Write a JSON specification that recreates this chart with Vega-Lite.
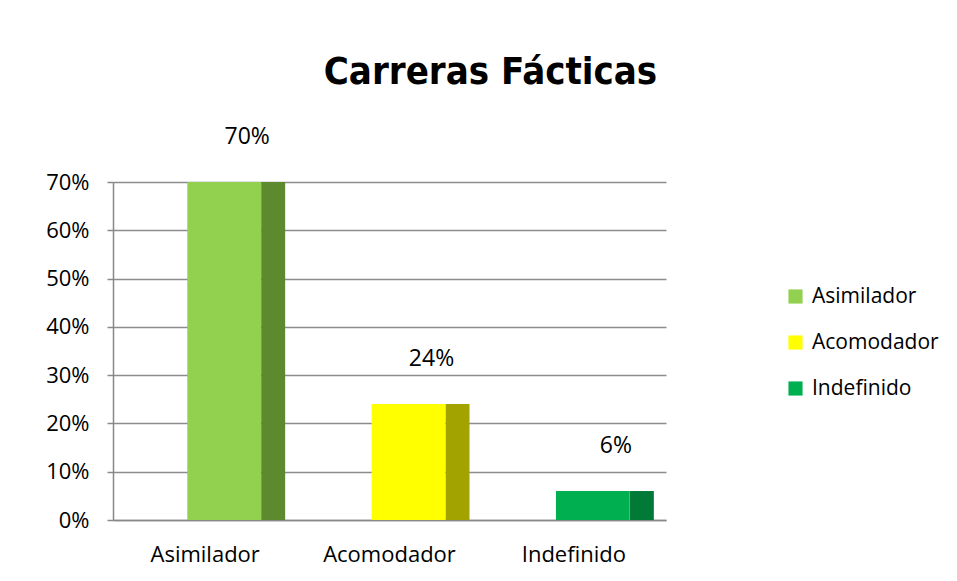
{
  "$schema": "https://vega.github.io/schema/vega-lite/v6.json",
  "autosize": "none",
  "padding": {"left": 113, "top": 182, "right": 237, "bottom": 61},
  "width": 607,
  "height": 338,
  "background": "white",
  "title": {
    "text": "Carreras Fácticas",
    "font": "Liberation Sans Narrow, DejaVu Sans Condensed, Liberation Sans, sans-serif",
    "fontSize": 38,
    "fontWeight": "bold",
    "color": "#000000",
    "anchor": "middle",
    "dx": 74,
    "offset": 34
  },
  "data": {
    "values": [
      {"estilo": "Asimilador", "valor": 0.70},
      {"estilo": "Acomodador", "valor": 0.24},
      {"estilo": "Indefinido", "valor": 0.06}
    ]
  },
  "config": {
    "view": {"stroke": null},
    "axis": {"labelFont": "Open Sans", "labelFontSize": 22, "labelColor": "#000000"},
    "legend": {"labelFont": "Open Sans", "labelFontSize": 21, "labelColor": "#000000"}
  },
  "resolve": {"scale": {"color": "independent"}},
  "encoding": {
    "x": {
      "field": "estilo",
      "type": "nominal",
      "sort": ["Asimilador", "Acomodador", "Indefinido"],
      "scale": {"range": [0, 553], "paddingInner": 0.6, "paddingOuter": 0.3},
      "axis": {
        "title": null,
        "labelAngle": 0,
        "labelPadding": 24,
        "ticks": false,
        "domainColor": "#888888",
        "domainWidth": 1.5,
        "grid": false
      }
    },
    "y": {
      "field": "valor",
      "type": "quantitative",
      "scale": {"domain": [0, 0.7], "nice": false},
      "axis": {
        "title": null,
        "format": ".0%",
        "values": [0, 0.1, 0.2, 0.3, 0.4, 0.5, 0.6, 0.7],
        "grid": true,
        "gridColor": "#8c8c8c",
        "gridWidth": 1.5,
        "domainColor": "#888888",
        "domainWidth": 1.5,
        "tickColor": "#888888",
        "tickSize": 6,
        "tickWidth": 1.5,
        "labelPadding": 18
      }
    }
  },
  "layer": [
    {
      "mark": {"type": "bar", "width": 24, "xOffset": 68},
      "encoding": {
        "color": {
          "field": "estilo",
          "type": "nominal",
          "scale": {
            "domain": ["Asimilador", "Acomodador", "Indefinido"],
            "range": ["#5E8A2F", "#A3A300", "#007A36"]
          },
          "legend": null
        }
      }
    },
    {
      "mark": {"type": "bar", "xOffset": 19},
      "encoding": {
        "color": {
          "field": "estilo",
          "type": "nominal",
          "sort": ["Asimilador", "Acomodador", "Indefinido"],
          "scale": {
            "domain": ["Asimilador", "Acomodador", "Indefinido"],
            "range": ["#92D050", "#FFFF00", "#00B050"]
          },
          "legend": {
            "title": null,
            "orient": "none",
            "legendX": 672,
            "legendY": 104,
            "symbolType": "square",
            "symbolSize": 200,
            "symbolStrokeWidth": 0,
            "rowPadding": 24,
            "labelOffset": 6
          }
        }
      }
    },
    {
      "mark": {"type": "text", "xOffset": 42, "dy": -45, "font": "Open Sans", "fontSize": 23, "color": "#000000"},
      "encoding": {
        "text": {"field": "valor", "type": "quantitative", "format": ".0%"}
      }
    }
  ]
}
